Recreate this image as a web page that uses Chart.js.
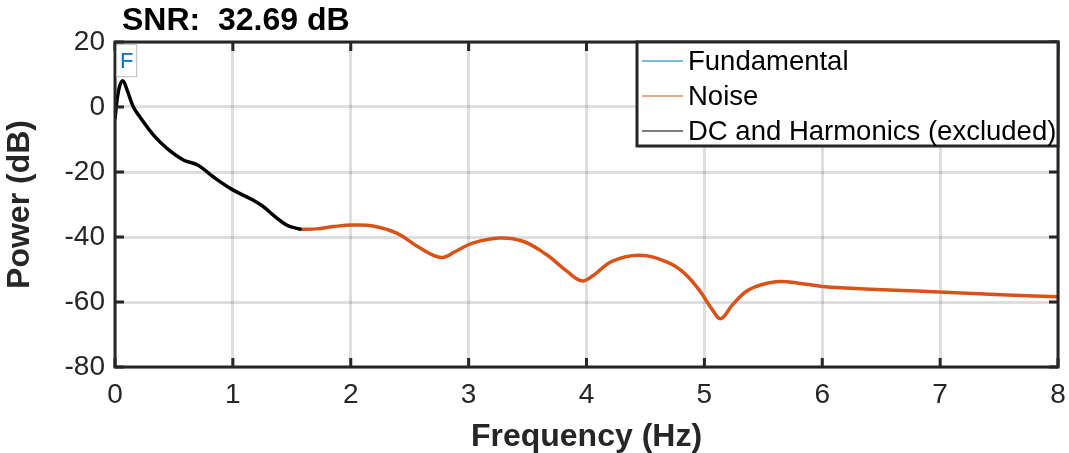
<!DOCTYPE html>
<html>
<head>
<meta charset="utf-8">
<script src="https://cdn.jsdelivr.net/npm/chart.js@4.4.1/dist/chart.umd.min.js"></script>
<style>
  body { margin: 0; background: #fff; }
</style>
</head>
<body>
<canvas id="myChart" width="1069" height="453"></canvas>
<script>
const titleText = 'SNR:  32.69 dB'
const xTicks = [0, 1, 2, 3, 4, 5, 6, 7, 8]
const yTicks = [-80, -60, -40, -20, 0, 20]

// fundamental (hidden under the black line, only the peak region)
const fundFreq = [0, 0.03, 0.065, 0.1, 0.155]
const fundPower = [-3.5, 5, 8.1, 5.5, 0.1]

// DC and harmonics (excluded)
const dcFreq = [0, 0.03, 0.065, 0.1, 0.155, 0.21, 0.325, 0.44, 0.58, 0.705, 0.83, 1.0, 1.17, 1.26, 1.34, 1.455, 1.57]
const dcPower = [-3.5, 5, 8.1, 5.5, 0.1, -3, -8.6, -12.7, -16.3, -17.9, -21.4, -25.5, -28.6, -30.7, -33.2, -36.3, -37.6]

// noise
const noiseFreq = [1.57, 1.71, 1.85, 2.02, 2.19, 2.39, 2.585, 2.77, 2.895, 3.04, 3.26, 3.46, 3.66, 3.83, 3.96, 4.05, 4.22, 4.45, 4.675, 4.82, 4.96, 5.07, 5.14, 5.24, 5.38, 5.605, 5.8, 6.0, 6.2, 6.62, 6.99, 7.47, 8.0]
const noisePower = [-37.6, -37.5, -36.8, -36.3, -36.6, -38.8, -43.3, -46.3, -44.3, -41.8, -40.3, -41.3, -45.4, -50.4, -53.5, -52, -47.4, -45.6, -47.6, -50.8, -56.5, -62.5, -65.1, -60.8, -56.2, -53.8, -54.2, -55.2, -55.7, -56.4, -56.9, -57.7, -58.4]

const font = '"Liberation Sans", Arial, Helvetica, sans-serif'
const pts = (xs, ys) => xs.map((x, i) => ({ x, y: ys[i] }))

// axes box, inward ticks, "F" marker, legend and title like the matlab figure
const matlabBits = {
  id: 'matlabBits',
  afterDatasetsDraw(chart) {
    const { ctx, chartArea: a, scales: { x, y } } = chart
    ctx.save()
    ctx.strokeStyle = '#262626'
    ctx.lineWidth = 3
    ctx.beginPath()
    x.ticks.forEach(t => {
      const px = x.getPixelForValue(t.value)
      ctx.moveTo(px, a.bottom); ctx.lineTo(px, a.bottom - 9)
      ctx.moveTo(px, a.top); ctx.lineTo(px, a.top + 9)
    })
    y.ticks.forEach(t => {
      const py = y.getPixelForValue(t.value)
      ctx.moveTo(a.left, py); ctx.lineTo(a.left + 9, py)
      ctx.moveTo(a.right, py); ctx.lineTo(a.right - 9, py)
    })
    ctx.stroke()
    ctx.strokeRect(a.left, a.top, a.width, a.height)

    // "F" label over the fundamental peak
    const fund = chart.data.datasets[0].data
    const peak = fund.reduce((m, p) => p.y > m.y ? p : m)
    const px = x.getPixelForValue(peak.x)
    const py = y.getPixelForValue(peak.y)
    ctx.fillStyle = '#fff'
    ctx.strokeStyle = '#bdbdbd'
    ctx.lineWidth = 1
    ctx.fillRect(px - 6, py - 36, 20, 32)
    ctx.strokeRect(px - 6, py - 36, 20, 32)
    ctx.fillStyle = '#0072BD'
    ctx.font = '22px ' + font
    ctx.textAlign = 'center'
    ctx.textBaseline = 'middle'
    ctx.fillText('F', px + 4, py - 19)

    // legend
    const lw = 421, lh = 104
    const lx = a.right - lw, ly = a.top
    ctx.fillStyle = '#fff'
    ctx.fillRect(lx, ly, lw, lh)
    ctx.strokeStyle = '#262626'
    ctx.lineWidth = 3
    ctx.strokeRect(lx, ly, lw, lh)
    ctx.font = '27.5px ' + font
    ctx.textAlign = 'left'
    chart.data.datasets.forEach((ds, i) => {
      const ry = ly + 19 + i * 35
      ctx.strokeStyle = ds.borderColor
      ctx.lineWidth = 1.2
      ctx.beginPath()
      ctx.moveTo(lx + 5, ry); ctx.lineTo(lx + 46, ry)
      ctx.stroke()
      ctx.fillStyle = '#000'
      ctx.fillText(ds.label, lx + 51, ry + 1)
    })
    ctx.restore()
  },
  afterDraw(chart) {
    const { ctx, chartArea: a } = chart
    ctx.save()
    ctx.fillStyle = '#000'
    ctx.font = 'bold 32px ' + font
    ctx.textAlign = 'left'
    ctx.textBaseline = 'alphabetic'
    ctx.fillText(titleText, a.left + 7, 30)
    ctx.restore()
  }
}

new Chart(document.getElementById('myChart'), {
  type: 'line',
  data: {
    datasets: [
      { label: 'Fundamental', data: pts(fundFreq, fundPower), borderColor: '#0072BD', borderWidth: 1, order: 2 },
      { label: 'Noise', data: pts(noiseFreq, noisePower), borderColor: '#D95319', borderWidth: 3.5, order: 1 },
      { label: 'DC and Harmonics (excluded)', data: pts(dcFreq, dcPower), borderColor: '#000000', borderWidth: 3.5, order: 0 }
    ]
  },
  options: {
    responsive: false,
    animation: false,
    devicePixelRatio: 1,
    layout: { padding: { top: 42, right: 11, left: 0, bottom: 0 } },
    elements: {
      point: { radius: 0 },
      line: { tension: 0.4, borderCapStyle: 'round', borderJoinStyle: 'round' }
    },
    plugins: {
      legend: { display: false },
      tooltip: { enabled: false }
    },
    scales: {
      x: {
        type: 'linear',
        min: 0,
        max: 8,
        afterBuildTicks: s => { s.ticks = xTicks.map(v => ({ value: v })) },
        afterFit: s => { s.height = 86; s.paddingLeft = 0; s.paddingRight = 0 },
        grid: { color: 'rgba(0,0,0,0.13)', lineWidth: 3, drawTicks: false },
        border: { display: false },
        ticks: { color: '#262626', padding: 11, maxRotation: 0, font: { family: font, size: 28 } },
        title: { display: true, text: 'Frequency (Hz)', color: '#262626', padding: { top: 0, bottom: 0 }, font: { family: font, size: 32, weight: 'bold', lineHeight: 1 } }
      },
      y: {
        min: -80,
        max: 20,
        afterBuildTicks: s => { s.ticks = yTicks.map(v => ({ value: v })) },
        afterFit: s => { s.width = 115 },
        grid: { color: 'rgba(0,0,0,0.13)', lineWidth: 3, drawTicks: false },
        border: { display: false },
        ticks: { color: '#262626', padding: 10, font: { family: font, size: 28 } },
        title: { display: true, text: 'Power (dB)', color: '#262626', padding: { top: 4, bottom: 0 }, font: { family: font, size: 32, weight: 'bold', lineHeight: 1 } }
      }
    }
  },
  plugins: [matlabBits]
})
</script>
</body>
</html>
